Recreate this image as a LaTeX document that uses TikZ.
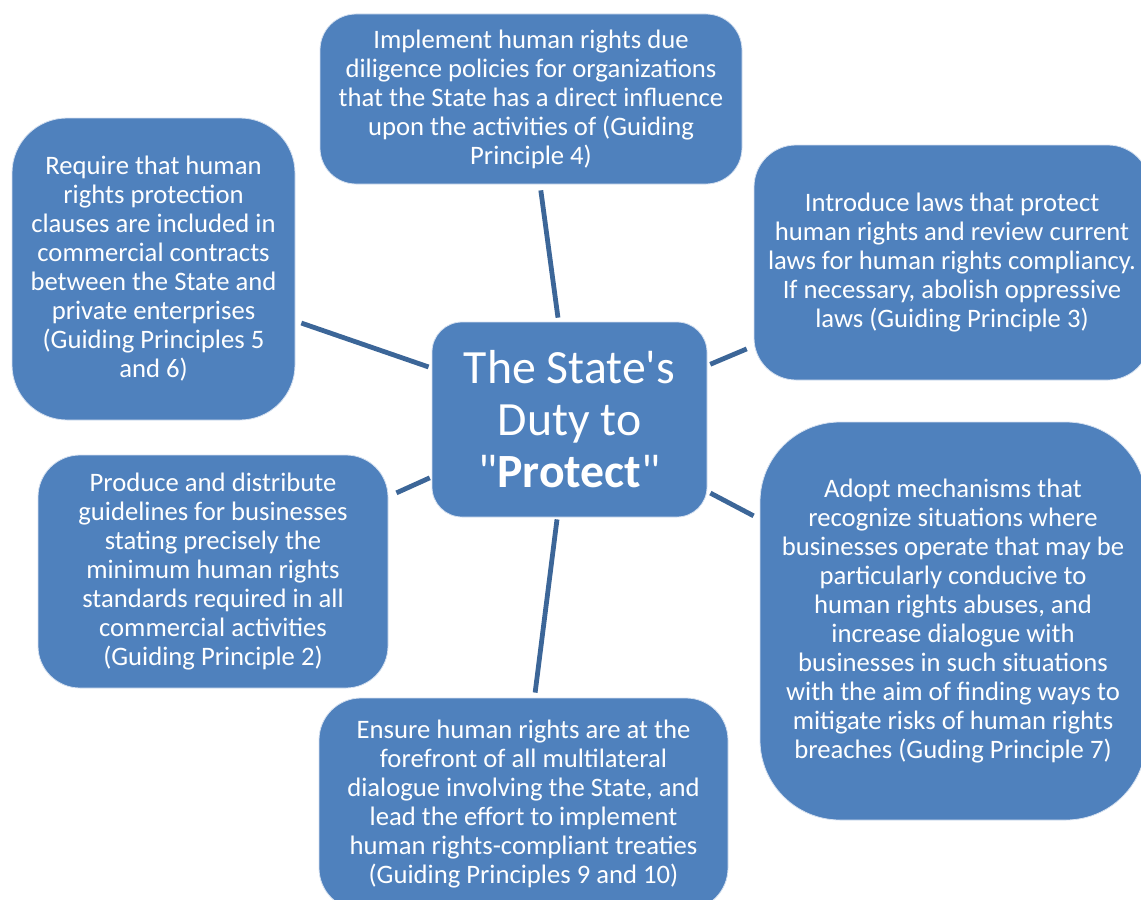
\documentclass[tikz,border=0pt]{standalone}
\usepackage{fontspec}
\newfontfamily\carlito{Carlito}
\usetikzlibrary{calc}
\definecolor{boxblue}{RGB}{79,129,189}
\definecolor{boxedge}{RGB}{214,225,240}
\definecolor{linkblue}{RGB}{60,102,152}
\tikzset{
  itembox/.style={draw=boxedge, line width=0.6pt, fill=boxblue, text=white,
    align=center, inner sep=0pt, font=\carlito\fontsize{20}{21.75}\selectfont},
  hubbox/.style={itembox, font=\carlito\fontsize{35.8}{39}\selectfont},
  link/.style={draw=linkblue, line width=3.6pt}
}
\begin{document}
\begin{tikzpicture}[x=0.75pt, y=-0.75pt]
\useasboundingbox (0,0) rectangle (1141,899);
\clip (0,0) rectangle (1141,899);

% central topic
\node[hubbox, minimum width=275*0.75pt, minimum height=195*0.75pt, rounded corners=30*0.75pt]
  (hub) at (569.5,419.5) {The State's\\Duty to\\"\textbf{Protect}"};

% surrounding duties
\node[itembox, minimum width=422*0.75pt, minimum height=170*0.75pt, rounded corners=36*0.75pt]
  (gp4) at (531,99) {Implement human rights due\\diligence policies for organizations\\that the State has a direct influence\\upon the activities of (Guiding\\Principle 4)};

\node[itembox, minimum width=396*0.75pt, minimum height=235*0.75pt, rounded corners=42*0.75pt]
  (gp3) at (952,262.5) {Introduce laws that protect\\human rights and review current\\laws for human rights compliancy.\\If necessary, abolish oppressive\\laws (Guiding Principle 3)};

\node[itembox, minimum width=283*0.75pt, minimum height=302*0.75pt, rounded corners=55*0.75pt]
  (gp56) at (153.5,269) {Require that human\\rights protection\\clauses are included in\\commercial contracts\\between the State and\\private enterprises\\(Guiding Principles 5\\and 6)};

\node[itembox, minimum width=350*0.75pt, minimum height=233*0.75pt, rounded corners=42*0.75pt]
  (gp2) at (213,571.5) {Produce and distribute\\guidelines for businesses\\stating precisely the\\minimum human rights\\standards required in all\\commercial activities\\(Guiding Principle 2)};

\node[itembox, minimum width=409*0.75pt, minimum height=212*0.75pt, rounded corners=42*0.75pt]
  (gp910) at (523.5,804) {Ensure human rights are at the\\forefront of all multilateral\\dialogue involving the State, and\\lead the effort to implement\\human rights-compliant treaties\\(Guiding Principles 9 and 10)};

\node[itembox, minimum width=386*0.75pt, minimum height=398*0.75pt, rounded corners=80*0.75pt]
  (gp7) at (953,621) {Adopt mechanisms that\\recognize situations where\\businesses operate that may be\\particularly conducive to\\human rights abuses, and\\increase dialogue with\\businesses in such situations\\with the aim of finding ways to\\mitigate risks of human rights\\breaches (Guding Principle 7)};

% connectors from the duties to the central topic
\draw[link, shorten <=4.5pt, shorten >=3pt]
  ($(gp4.south)+(9,0)$) -- ($(hub.north)+(-11,0)$);
\draw[link, shorten <=4.7pt, shorten >=2.4pt]
  ($(gp56.east)+(0,52)$) -- ($(hub.west)+(0,-51.5)$);
\draw[link, shorten <=6.6pt, shorten >=1.5pt]
  ($(gp2.east)+(0,-75)$) -- ($(hub.west)+(0,57.5)$);
\draw[link, shorten <=2.3pt, shorten >=5.6pt]
  ($(hub.east)+(0,-54)$) -- ($(gp3.west)+(0,83.5)$);
\draw[link, shorten <=2.5pt, shorten >=5.1pt]
  ($(hub.east)+(0,72)$) -- ($(gp7.west)+(0,-102)$);
\draw[link, shorten <=1.5pt, shorten >=3.8pt]
  ($(hub.south)+(-12.25,0)$) -- ($(gp910.north)+(11,0)$);
\end{tikzpicture}
\end{document}
